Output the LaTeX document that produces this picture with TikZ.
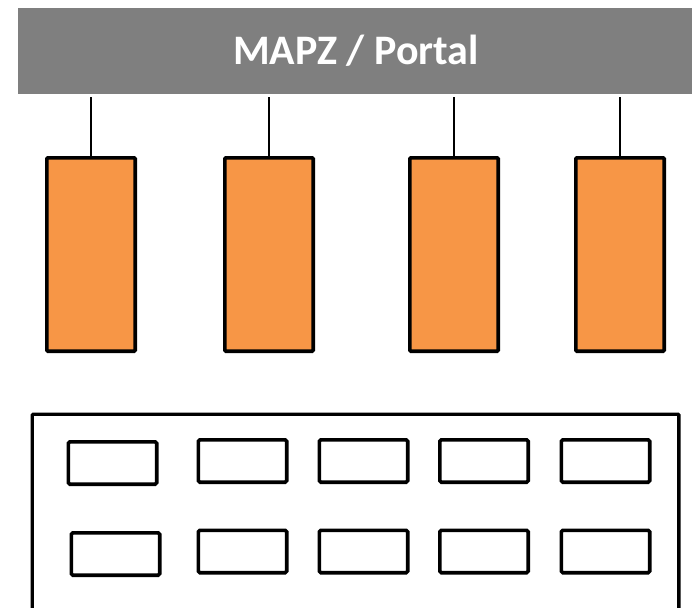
\documentclass[tikz,border=0pt]{standalone}
\usepackage{fontspec}
\setmainfont{Carlito}
\definecolor{bargray}{HTML}{7F7F7F}
\definecolor{apporange}{HTML}{F79646}
\begin{document}
\begin{tikzpicture}[x=1pt,y=-1pt,
  portalbar/.style={fill=bargray, draw=none, minimum width=676pt, minimum height=86pt,
    inner sep=0pt, text=white, font=\fontsize{42}{50}\selectfont\bfseries},
  appbox/.style={fill=apporange, draw=black, line width=3.6pt, rounded corners=1pt,
    minimum width=88.4pt, minimum height=193.4pt, inner sep=0pt},
  framebox/.style={draw=black, line width=3.4pt, rounded corners=1pt,
    minimum width=646.6pt, minimum height=282.6pt, inner sep=0pt},
  cellbox/.style={draw=black, line width=3.6pt, rounded corners=1.5pt,
    minimum width=88.4pt, minimum height=42.4pt, inner sep=0pt},
  link/.style={draw=black, line width=2.6pt}]
\useasboundingbox (0,0) rectangle (692,607);
\clip (0,0) rectangle (692,607);

% top bar
\node[portalbar] (portal) at (356,51) {MAPZ / Portal};

% application blocks hanging from the bar
\node[appbox] (a1) at (91,254.5) {};
\node[appbox] (a2) at (269,254.5) {};
\node[appbox] (a3) at (454,254.5) {};
\node[appbox] (a4) at (620,254.5) {};
\foreach \n in {a1,a2,a3,a4}
  \draw[link, shorten >=3pt] (\n.north) -- (\n.north |- portal.south);

% container with two rows of cells
\node[framebox] (frame) at (355.5,555.5) {};
\node[cellbox] (c11) at (112.5,463) {};
\node[cellbox] (c12) at (242.5,461) {};
\node[cellbox] (c13) at (363.5,461) {};
\node[cellbox] (c14) at (484,461) {};
\node[cellbox] (c15) at (605.5,461) {};
\node[cellbox] (c21) at (115.5,554) {};
\node[cellbox] (c22) at (242.5,551.5) {};
\node[cellbox] (c23) at (363.5,551.5) {};
\node[cellbox] (c24) at (484,551.5) {};
\node[cellbox] (c25) at (605.5,551.5) {};
\end{tikzpicture}
\end{document}
